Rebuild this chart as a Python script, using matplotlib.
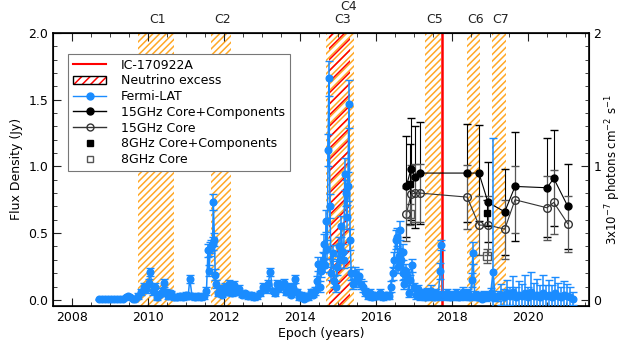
import numpy as np
import matplotlib
matplotlib.use("Agg")
import matplotlib.pyplot as plt
from matplotlib.lines import Line2D
from matplotlib.patches import Patch
from matplotlib.ticker import MultipleLocator

# --- Fermi-LAT light curve (3x10^-7 ph cm^-2 s^-1) ---
fermi_t = [2008.70, 2008.78, 2008.86, 2008.94, 2009.02, 2009.10, 2009.18, 2009.26, 2009.34, 2009.42,
           2009.48, 2009.54, 2009.60, 2009.66, 2009.74, 2009.82, 2009.90, 2009.96, 2010.02, 2010.06,
           2010.12, 2010.18, 2010.24, 2010.30, 2010.36, 2010.42, 2010.48, 2010.54, 2010.60, 2010.68,
           2010.76, 2010.84, 2010.92, 2011.00, 2011.06, 2011.10, 2011.16, 2011.24, 2011.32, 2011.40,
           2011.48, 2011.54, 2011.58, 2011.61, 2011.64, 2011.67, 2011.70, 2011.72, 2011.75, 2011.77,
           2011.80, 2011.84, 2011.90, 2011.96, 2012.02, 2012.08, 2012.14, 2012.20, 2012.26, 2012.32,
           2012.40, 2012.48, 2012.56, 2012.64, 2012.72, 2012.80, 2012.88, 2012.96, 2013.04, 2013.10,
           2013.16, 2013.22, 2013.28, 2013.34, 2013.40, 2013.46, 2013.52, 2013.58, 2013.64, 2013.70,
           2013.76, 2013.82, 2013.87, 2013.92, 2013.98, 2014.04, 2014.10, 2014.16, 2014.22, 2014.28,
           2014.34, 2014.40, 2014.44, 2014.48, 2014.52, 2014.56, 2014.60, 2014.63, 2014.66, 2014.69,
           2014.72, 2014.74, 2014.76, 2014.79, 2014.82, 2014.86, 2014.90, 2014.94, 2014.98, 2015.02,
           2015.06, 2015.09, 2015.12, 2015.15, 2015.18, 2015.20, 2015.23, 2015.26, 2015.29, 2015.32,
           2015.35, 2015.40, 2015.45, 2015.50, 2015.55, 2015.60, 2015.66, 2015.72, 2015.78, 2015.84,
           2015.90, 2015.96, 2016.02, 2016.10, 2016.18, 2016.26, 2016.34, 2016.40, 2016.44, 2016.48,
           2016.52, 2016.55, 2016.58, 2016.61, 2016.64, 2016.67, 2016.70, 2016.72, 2016.75, 2016.78,
           2016.82, 2016.86, 2016.90, 2016.95, 2017.00, 2017.05, 2017.10, 2017.16, 2017.22, 2017.28,
           2017.34, 2017.40, 2017.46, 2017.52, 2017.58, 2017.64, 2017.69, 2017.71, 2017.76, 2017.82,
           2017.88, 2017.94, 2018.00, 2018.06, 2018.12, 2018.18, 2018.24, 2018.30, 2018.36, 2018.42,
           2018.48, 2018.52, 2018.55, 2018.60, 2018.66, 2018.72, 2018.78, 2018.84, 2018.90, 2018.96,
           2019.02, 2019.08, 2019.14, 2019.20, 2019.28, 2019.36, 2019.44, 2019.52, 2019.60, 2019.68,
           2019.76, 2019.84, 2019.92, 2020.00, 2020.08, 2020.16, 2020.24, 2020.32, 2020.40, 2020.48,
           2020.56, 2020.64, 2020.72, 2020.80, 2020.88, 2020.96, 2021.04, 2021.12, 2021.18]
fermi_f = [0.005, 0.005, 0.005, 0.005, 0.005, 0.005, 0.008, 0.006, 0.008, 0.02,
           0.03, 0.02, 0.01, 0.01, 0.03, 0.06, 0.10, 0.08, 0.13, 0.21,
           0.07, 0.10, 0.02, 0.04, 0.06, 0.13, 0.06, 0.03, 0.05, 0.02,
           0.02, 0.03, 0.02, 0.04, 0.03, 0.16, 0.03, 0.02, 0.03, 0.02,
           0.03, 0.07, 0.37, 0.22, 0.38, 0.40, 0.42, 0.73, 0.45, 0.19,
           0.12, 0.05, 0.08, 0.04, 0.10, 0.06, 0.12, 0.05, 0.11, 0.06,
           0.08, 0.04, 0.05, 0.03, 0.04, 0.02, 0.03, 0.05, 0.10, 0.08,
           0.12, 0.21, 0.07, 0.05, 0.12, 0.09, 0.11, 0.13, 0.06, 0.10,
           0.04, 0.09, 0.16, 0.06, 0.02, 0.04, 0.01, 0.03, 0.02, 0.06,
           0.04, 0.07, 0.14, 0.27, 0.10, 0.22, 0.30, 0.42, 0.26, 0.59,
           0.38, 1.12, 1.66, 0.70, 0.20, 0.35, 0.14, 0.10, 0.25, 0.40,
           0.30, 0.55, 0.36, 0.30, 0.94, 0.80, 0.62, 0.85, 1.47, 0.45,
           0.20, 0.12, 0.20, 0.15, 0.18, 0.12, 0.10, 0.06, 0.03, 0.05,
           0.02, 0.04, 0.03, 0.05, 0.02, 0.04, 0.03, 0.10, 0.20, 0.30,
           0.45, 0.47, 0.25, 0.33, 0.52, 0.30, 0.20, 0.36, 0.12, 0.22,
           0.18, 0.05, 0.15, 0.26, 0.10, 0.04, 0.08, 0.03, 0.05, 0.02,
           0.06, 0.03, 0.07, 0.02, 0.05, 0.03, 0.22, 0.41, 0.04, 0.03,
           0.05, 0.02, 0.04, 0.03, 0.05, 0.02, 0.04, 0.06, 0.03, 0.05,
           0.02, 0.15, 0.35, 0.04, 0.02, 0.03, 0.01, 0.04, 0.02, 0.03,
           0.05, 0.21, 0.02, 0.03, 0.04, 0.02, 0.05, 0.03, 0.06, 0.02,
           0.04, 0.03, 0.05, 0.02, 0.06, 0.03, 0.04, 0.02, 0.05, 0.03,
           0.04, 0.02, 0.05, 0.03, 0.02, 0.04, 0.03, 0.02, 0.01]
fermi_e = [0.004, 0.004, 0.004, 0.004, 0.004, 0.004, 0.005, 0.005, 0.005, 0.01,
           0.01, 0.01, 0.01, 0.01, 0.02, 0.02, 0.03, 0.03, 0.03, 0.03,
           0.03, 0.03, 0.02, 0.02, 0.03, 0.03, 0.02, 0.02, 0.02, 0.02,
           0.02, 0.02, 0.02, 0.02, 0.02, 0.03, 0.02, 0.02, 0.02, 0.02,
           0.02, 0.03, 0.05, 0.04, 0.05, 0.05, 0.05, 0.06, 0.05, 0.04,
           0.03, 0.02, 0.03, 0.02, 0.03, 0.02, 0.03, 0.02, 0.03, 0.02,
           0.03, 0.02, 0.02, 0.02, 0.02, 0.02, 0.02, 0.02, 0.03, 0.03,
           0.03, 0.03, 0.02, 0.02, 0.03, 0.03, 0.03, 0.03, 0.02, 0.03,
           0.02, 0.03, 0.03, 0.02, 0.02, 0.02, 0.02, 0.02, 0.02, 0.02,
           0.02, 0.03, 0.04, 0.05, 0.04, 0.05, 0.06, 0.07, 0.05, 0.08,
           0.07, 0.12, 0.13, 0.09, 0.05, 0.06, 0.04, 0.04, 0.06, 0.07,
           0.06, 0.08, 0.06, 0.06, 0.12, 0.10, 0.09, 0.11, 0.18, 0.08,
           0.05, 0.04, 0.05, 0.05, 0.05, 0.04, 0.04, 0.03, 0.02, 0.03,
           0.02, 0.02, 0.02, 0.03, 0.02, 0.02, 0.02, 0.04, 0.05, 0.06,
           0.07, 0.07, 0.05, 0.06, 0.07, 0.05, 0.05, 0.06, 0.04, 0.05,
           0.05, 0.03, 0.04, 0.05, 0.03, 0.03, 0.03, 0.03, 0.03, 0.02,
           0.03, 0.03, 0.04, 0.02, 0.03, 0.03, 0.06, 0.04, 0.03, 0.03,
           0.03, 0.02, 0.03, 0.03, 0.03, 0.02, 0.03, 0.04, 0.03, 0.03,
           0.02, 0.05, 0.08, 0.03, 0.02, 0.03, 0.02, 0.03, 0.03, 0.03,
           0.04, 1.00, 0.03, 0.04, 0.08, 0.06, 0.10, 0.07, 0.12, 0.08,
           0.10, 0.09, 0.14, 0.08, 0.15, 0.10, 0.12, 0.09, 0.14, 0.08,
           0.11, 0.09, 0.12, 0.10, 0.08, 0.10, 0.09, 0.08, 0.05]

# --- 15 GHz VLBA (Jy) ---
r15_t = [2016.80, 2016.92, 2017.03, 2017.16, 2018.40, 2018.71, 2018.95, 2019.39, 2019.66, 2020.50, 2020.68, 2021.05]
r15_all = [0.85, 0.98, 0.92, 0.95, 0.95, 0.95, 0.73, 0.66, 0.85, 0.84, 0.91, 0.70]
r15_all_e = [0.38, 0.38, 0.38, 0.38, 0.37, 0.36, 0.30, 0.32, 0.41, 0.37, 0.36, 0.32]
r15_core = [0.64, 0.79, 0.80, 0.80, 0.77, 0.56, 0.56, 0.53, 0.75, 0.69, 0.73, 0.57]
r15_core_e = [0.20, 0.22, 0.22, 0.22, 0.24, 0.22, 0.22, 0.22, 0.25, 0.24, 0.24, 0.21]

# --- 8 GHz (Jy) ---
r8_t = [2016.90, 2018.92]
r8_all = [0.87, 0.65]
r8_all_e = [0.30, 0.10]
r8_core = [0.64, 0.33]
r8_core_e = [0.08, 0.05]

# --- neutrino-excess windows ---
win_lo = [2009.74, 2011.66, 2014.68, 2017.29, 2018.39, 2019.05]
win_hi = [2010.68, 2012.18, 2015.42, 2017.71, 2018.74, 2019.42]
c3_lo, c3_hi = 2014.76, 2015.32
win_names = ["C1", "C2", "C3", "C4", "C5", "C6", "C7"]
win_label_x = [2010.26, 2011.97, 2015.13, 2015.29, 2017.55, 2018.63, 2019.29]
win_label_y = [1.048, 1.048, 1.048, 1.095, 1.048, 1.048, 1.048]
ic_t = 2017.73

blue = "#1a8cff"
orange = "#ffa826"

plt.rcParams["font.family"] = "DejaVu Sans"
plt.rcParams["font.size"] = 9
plt.rcParams["hatch.linewidth"] = 1.1

fig = plt.figure(figsize=(6.23, 3.5), dpi=100)
ax = fig.add_axes([0.085, 0.126, 0.86, 0.78])

for lo, hi in zip(win_lo, win_hi):
    ax.axvspan(lo, hi, facecolor="none", edgecolor=orange, hatch="/////", linewidth=0, zorder=1)
ax.axvspan(c3_lo, c3_hi, facecolor="none", edgecolor="red", hatch="///", linewidth=0, zorder=1.1)
ax.axvline(ic_t, color="red", lw=1.8, zorder=2)

for name, xl, yl in zip(win_names, win_label_x, win_label_y):
    ax.text(xl, yl, name, transform=ax.get_xaxis_transform(), ha="center", va="center",
            fontsize=9, color="#222222")

# radio data
ax.errorbar(r15_t, r15_all, yerr=r15_all_e, color="black", marker="o", ms=5, lw=0.8,
            elinewidth=0.8, capsize=3, zorder=3)
ax.errorbar(r15_t, r15_core, yerr=r15_core_e, color="#333333", marker="o", ms=5.5, mfc="none",
            lw=0.8, elinewidth=0.8, capsize=3, ecolor="#555555", zorder=3)
ax.errorbar(r8_t, r8_all, yerr=r8_all_e, color="black", marker="s", ms=5, ls="none",
            elinewidth=0.8, capsize=3, zorder=3)
ax.errorbar(r8_t, r8_core, yerr=r8_core_e, color="#555555", marker="s", ms=5.5, mfc="none",
            ls="none", elinewidth=0.8, capsize=3, zorder=3)

# fermi
ax.errorbar(fermi_t, fermi_f, yerr=fermi_e, color=blue, marker="o", ms=4.8, lw=1.1,
            elinewidth=1.1, capsize=3, zorder=4)

ax.set_xlim(2007.5, 2021.6)
ax.set_ylim(-0.045, 2.0)
ax.xaxis.set_major_locator(MultipleLocator(2))
ax.xaxis.set_minor_locator(MultipleLocator(0.5))
ax.yaxis.set_major_locator(MultipleLocator(0.5))
ax.yaxis.set_minor_locator(MultipleLocator(0.1))
ax.yaxis.set_major_formatter(matplotlib.ticker.FormatStrFormatter("%.1f"))
ax.tick_params(which="both", direction="in", top=True, right=False, color="#222222")
ax.tick_params(which="major", length=6)
ax.tick_params(which="minor", length=3)
ax.set_xlabel("Epoch (years)", labelpad=2)
ax.set_ylabel("Flux Density (Jy)", labelpad=4)
for sp in ax.spines.values():
    sp.set_linewidth(1.2)

ax2 = ax.twinx()
ax2.set_ylim(-0.045, 2.0)
ax2.yaxis.set_major_locator(MultipleLocator(1))
ax2.yaxis.set_minor_locator(MultipleLocator(0.1))
ax2.tick_params(which="both", direction="in", color="#222222")
ax2.tick_params(which="major", length=6)
ax2.tick_params(which="minor", length=3)
ax2.set_ylabel(r"3x10$^{-7}$ photons cm$^{-2}$ s$^{-1}$", fontsize=8.5)
ax2.yaxis.set_label_coords(1.028, 0.5)

handles = [
    Line2D([0], [0], color="red", lw=1.5),
    (Patch(facecolor="white", edgecolor="red", hatch="////", linewidth=0),
     Patch(facecolor="none", edgecolor="black", linewidth=1.0)),
    Line2D([0], [0], color=blue, marker="o", ms=5, lw=1),
    Line2D([0], [0], color="black", marker="o", ms=5, lw=1),
    Line2D([0], [0], color="#333333", marker="o", ms=5, mfc="none", lw=1),
    Line2D([0], [0], color="black", marker="s", ms=5, ls="none"),
    Line2D([0], [0], color="#555555", marker="s", ms=5, mfc="none", ls="none"),
]
labels = ["IC-170922A", "Neutrino excess", "Fermi-LAT", "15GHz Core+Components",
          "15GHz Core", "8GHz Core+Components", "8GHz Core"]
leg = ax.legend(handles, labels, loc="upper left", bbox_to_anchor=(0.017, 0.947),
                fancybox=False, framealpha=1, edgecolor="#777777", handlelength=2.6,
                handletextpad=1.2, labelspacing=0.22, borderpad=0.4, fontsize=9)
leg.get_frame().set_linewidth(0.8)
leg.set_zorder(10)

fig.savefig("out.png", dpi=100)
